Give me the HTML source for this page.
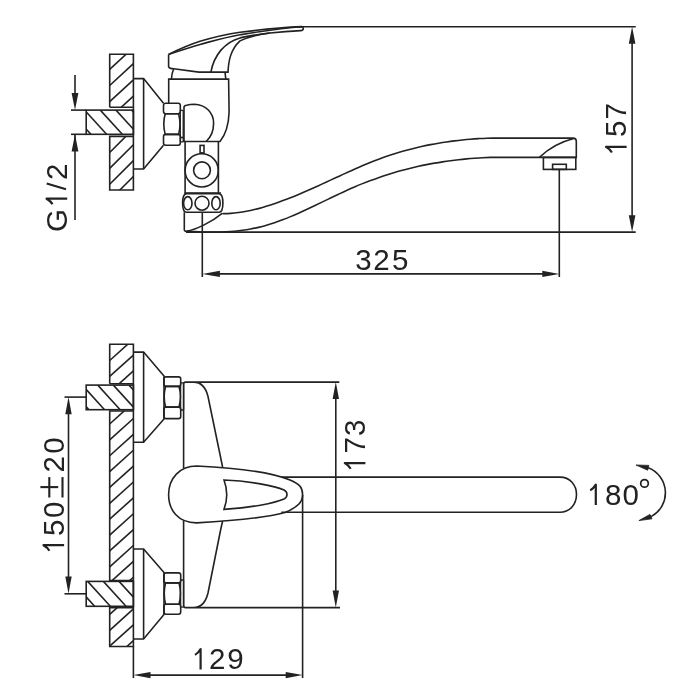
<!DOCTYPE html>
<html><head><meta charset="utf-8"><style>
html,body{margin:0;padding:0;background:#fff;width:700px;height:700px;overflow:hidden}
svg{position:absolute;left:0;top:0;will-change:transform}
text{font-family:"Liberation Sans",sans-serif;fill:#222}
</style></head><body>
<svg width="700" height="700" viewBox="0 0 700 700">
<g fill="none" stroke="#222" stroke-width="1.6" stroke-linejoin="miter">
<clipPath id="c1"><rect x="109.7" y="54.3" width="23.70" height="53.00"/></clipPath>
<g clip-path="url(#c1)"><line x1="109.70" y1="69.30" x2="133.40" y2="47.50"/><line x1="109.70" y1="85.50" x2="133.40" y2="63.70"/><line x1="109.70" y1="101.70" x2="133.40" y2="79.90"/><line x1="109.70" y1="117.90" x2="133.40" y2="96.10"/></g>
<clipPath id="c2"><rect x="109.7" y="136.4" width="23.70" height="53.60"/></clipPath>
<g clip-path="url(#c2)"><line x1="109.70" y1="136.60" x2="133.40" y2="112.90"/><line x1="109.70" y1="152.50" x2="133.40" y2="128.80"/><line x1="109.70" y1="168.40" x2="133.40" y2="144.70"/><line x1="109.70" y1="184.30" x2="133.40" y2="160.60"/><line x1="109.70" y1="200.20" x2="133.40" y2="176.50"/></g>
<clipPath id="c3"><rect x="86.2" y="110.1" width="47.20" height="24.20"/></clipPath>
<g clip-path="url(#c3)"><line x1="68.90" y1="110.10" x2="90.90" y2="134.30"/><line x1="84.60" y1="110.10" x2="106.60" y2="134.30"/><line x1="100.30" y1="110.10" x2="122.30" y2="134.30"/><line x1="116.00" y1="110.10" x2="138.00" y2="134.30"/><line x1="131.70" y1="110.10" x2="153.70" y2="134.30"/></g>
<clipPath id="c4"><rect x="109.7" y="344.3" width="23.70" height="39.50"/></clipPath>
<g clip-path="url(#c4)"><line x1="109.70" y1="344.63" x2="133.40" y2="323.30"/><line x1="109.70" y1="360.50" x2="133.40" y2="339.17"/><line x1="109.70" y1="376.37" x2="133.40" y2="355.04"/><line x1="109.70" y1="392.24" x2="133.40" y2="370.91"/></g>
<clipPath id="c5"><rect x="109.7" y="411.0" width="23.70" height="169.60"/></clipPath>
<g clip-path="url(#c5)"><line x1="109.70" y1="423.98" x2="133.40" y2="402.65"/><line x1="109.70" y1="439.85" x2="133.40" y2="418.52"/><line x1="109.70" y1="455.72" x2="133.40" y2="434.39"/><line x1="109.70" y1="471.59" x2="133.40" y2="450.26"/><line x1="109.70" y1="487.46" x2="133.40" y2="466.13"/><line x1="109.70" y1="503.33" x2="133.40" y2="482.00"/><line x1="109.70" y1="519.20" x2="133.40" y2="497.87"/><line x1="109.70" y1="535.07" x2="133.40" y2="513.74"/><line x1="109.70" y1="550.94" x2="133.40" y2="529.61"/><line x1="109.70" y1="566.81" x2="133.40" y2="545.48"/><line x1="109.70" y1="582.68" x2="133.40" y2="561.35"/><line x1="109.70" y1="598.55" x2="133.40" y2="577.22"/></g>
<clipPath id="c6"><rect x="109.7" y="607.6" width="23.70" height="38.90"/></clipPath>
<g clip-path="url(#c6)"><line x1="109.70" y1="614.42" x2="133.40" y2="593.09"/><line x1="109.70" y1="630.29" x2="133.40" y2="608.96"/><line x1="109.70" y1="646.16" x2="133.40" y2="624.83"/><line x1="109.70" y1="662.03" x2="133.40" y2="640.70"/></g>
<clipPath id="c7"><rect x="86.2" y="385.1" width="47.20" height="24.60"/></clipPath>
<g clip-path="url(#c7)"><line x1="66.60" y1="385.10" x2="88.96" y2="409.70"/><line x1="82.20" y1="385.10" x2="104.56" y2="409.70"/><line x1="97.80" y1="385.10" x2="120.16" y2="409.70"/><line x1="113.40" y1="385.10" x2="135.76" y2="409.70"/><line x1="129.00" y1="385.10" x2="151.36" y2="409.70"/></g>
<clipPath id="c8"><rect x="86.2" y="581.4" width="47.20" height="24.90"/></clipPath>
<g clip-path="url(#c8)"><line x1="72.00" y1="581.40" x2="94.64" y2="606.30"/><line x1="87.70" y1="581.40" x2="110.34" y2="606.30"/><line x1="103.40" y1="581.40" x2="126.04" y2="606.30"/><line x1="119.10" y1="581.40" x2="141.74" y2="606.30"/></g>
<!-- ============ TOP VIEW ============ -->
<path d="M109.7 107.3 L109.7 54.3 L133.4 54.3 L133.4 190 L109.7 190 L109.7 136.4 L133.4 136.4 M109.7 107.3 L133.4 107.3"/>
<rect x="86.2" y="110.1" width="47.2" height="24.2"/>
<line x1="71" y1="110.1" x2="86.2" y2="110.1"/>
<line x1="71" y1="134.3" x2="86.2" y2="134.3"/>
<!-- G1/2 dim -->
<line x1="46.7" y1="183.5" x2="66" y2="189.3" stroke-width="2.1"/>
<line x1="75" y1="75" x2="75" y2="95"/>
<line x1="75" y1="134.3" x2="75" y2="220"/>
<path d="M71.6 93 L78.4 93 L75 110 Z M71.6 151.4 L78.4 151.4 L75 134.3 Z" fill="#222" stroke="none"/>

<!-- faceplate -->
<path d="M133.4 78.6 L143.6 78.6 L163.5 103.3 M163.5 145.2 L143.6 169 L133.4 169"/>
<line x1="143.6" y1="78.6" x2="143.6" y2="169"/>
<!-- nut -->
<rect x="163.5" y="103.3" width="16.8" height="10.5" rx="2.2"/>
<path d="M165.2 113.8 L178.6 113.8 Q181.4 124.1 178.6 134.4 L165.2 134.4 Q162.4 124.1 165.2 113.8 Z"/>
<rect x="163.5" y="134.4" width="16.8" height="10.8" rx="2.2"/>
<rect x="180.3" y="110.3" width="2.9" height="31.5" rx="0.6" stroke-width="1.3"/>
<line x1="180.3" y1="137.5" x2="183.2" y2="137.5"/>

<!-- body -->
<path d="M168.7 103.3 L168.7 79.1 L228.6 79.1 L229.1 112 Q228.5 131 220 141.5 L183.2 141.5"/>
<path d="M184 141.5 L184 107.5 Q184 105.6 186.5 105.3 Q190 104.2 194.3 104.2 C206 104.6 213.6 113 213.6 123.2 C213.6 131 210.5 137.5 206.1 141.5"/>
<!-- band under handle -->
<path d="M173.7 68.7 Q171.8 73 171.4 79.1 M225 72.1 L225.8 79.1"/>
<!-- handle -->
<path d="M168.6 54.4 L168.6 66.6 Q169.5 68.7 173.7 68.7 L198.9 72.1 L228 72.1 C228.5 62 230 50 240 40.9 C246 37.8 256 34.6 270 33"/>
<path d="M168.6 54.4 C180 48.8 190 44.5 200 41.3 C213 37.5 226 34.3 240 32.3 C262 29.4 285 27.3 301.5 26.6 Q303.3 26.7 303.3 28.6 Q303.3 30.6 300.8 30.6 C290 31 280 31.8 270 33 C262 34 250 35.5 240 37.9 C225 42 214 55 210.9 72.1"/>
<path d="M168.6 54.4 C180 50.6 190 47.2 200 44.4 C213 41 226 37.2 240 34.8 C258 31.8 280 28 302 26.7"/>
<line x1="302.6" y1="26.8" x2="635.7" y2="26.8"/>

<!-- stem below body -->
<line x1="185.1" y1="141.5" x2="185.1" y2="193.8"/>
<line x1="218.4" y1="141.5" x2="218.4" y2="193.8"/>
<rect x="200.1" y="145.4" width="3.9" height="7.5"/>
<circle cx="201.7" cy="170.4" r="16.6"/>
<circle cx="202" cy="170.3" r="8.4"/>
<!-- ring -->
<path d="M186.5 193.6 L219 193.6 Q222.9 194 222.9 203 Q222.9 212.3 219 212.3 L186.5 212.3 Q182.6 212.3 182.6 203 Q182.6 194 186.5 193.6 Z"/>
<line x1="184.5" y1="192.9" x2="221" y2="192.9" stroke-width="1.2"/>
<ellipse cx="187.8" cy="203.2" rx="4.2" ry="6.6"/>
<circle cx="202" cy="203.2" r="7"/>
<ellipse cx="216" cy="203.2" rx="4.2" ry="6.6"/>
<!-- spout base -->
<path d="M184.3 212.3 L184.3 229.5 Q184.3 231.5 186.5 231.4 C196 229.5 212 222 222.5 213.2"/>
<path d="M222.50 213.71 C223.83 213.66 227.83 213.57 230.50 213.38 C233.17 213.19 235.83 212.90 238.50 212.55 C241.17 212.20 243.83 211.76 246.50 211.26 C249.17 210.76 251.83 210.19 254.50 209.56 C257.17 208.93 259.83 208.23 262.50 207.48 C265.17 206.73 267.83 205.91 270.50 205.06 C273.17 204.21 275.83 203.30 278.50 202.35 C281.17 201.40 283.83 200.40 286.50 199.37 C289.17 198.34 291.83 197.28 294.50 196.18 C297.17 195.09 299.83 193.95 302.50 192.80 C305.17 191.65 307.83 190.48 310.50 189.29 C313.17 188.10 315.83 186.89 318.50 185.67 C321.17 184.45 323.83 183.22 326.50 181.99 C329.17 180.76 331.83 179.52 334.50 178.29 C337.17 177.06 339.83 175.83 342.50 174.61 C345.17 173.39 347.83 172.17 350.50 170.98 C353.17 169.79 355.83 168.60 358.50 167.45 C361.17 166.29 363.83 165.15 366.50 164.05 C369.17 162.95 371.83 161.87 374.50 160.83 C377.17 159.79 379.83 158.78 382.50 157.82 C385.17 156.86 387.83 155.93 390.50 155.05 C393.17 154.17 395.83 153.33 398.50 152.53 C401.17 151.73 403.83 150.96 406.50 150.23 C409.17 149.50 411.83 148.81 414.50 148.16 C417.17 147.50 419.83 146.89 422.50 146.30 C425.17 145.72 427.83 145.17 430.50 144.65 C433.17 144.13 435.83 143.64 438.50 143.19 C441.17 142.74 443.83 142.32 446.50 141.93 C449.17 141.54 451.83 141.18 454.50 140.85 C457.17 140.52 459.83 140.22 462.50 139.94 C465.17 139.66 467.83 139.42 470.50 139.20 C473.17 138.98 475.83 138.79 478.50 138.62 C481.17 138.45 483.83 138.27 486.50 138.18 C489.17 138.09 491.83 138.11 494.50 138.10 C497.17 138.09 499.83 138.10 502.50 138.10 C505.17 138.10 507.83 138.10 510.50 138.10 C513.17 138.10 515.83 138.10 518.50 138.10 C521.17 138.10 524.58 138.10 526.50 138.10 C528.42 138.10 529.42 138.10 530.00 138.10 L573 138.1 Q576.3 138.1 576.3 141.5 L576.3 157.4 L530 157.4" />
<path d="M186.50 231.17 C187.83 231.25 191.83 231.53 194.50 231.67 C197.17 231.81 199.83 231.94 202.50 232.00 C205.17 232.06 207.83 232.00 210.50 232.00 C213.17 232.00 215.83 232.03 218.50 232.00 C221.17 231.97 223.83 231.97 226.50 231.85 C229.17 231.72 231.83 231.50 234.50 231.25 C237.17 231.00 239.83 230.70 242.50 230.33 C245.17 229.96 247.83 229.54 250.50 229.05 C253.17 228.56 255.83 228.00 258.50 227.37 C261.17 226.74 263.83 226.03 266.50 225.26 C269.17 224.48 271.83 223.63 274.50 222.72 C277.17 221.81 279.83 220.84 282.50 219.82 C285.17 218.80 287.83 217.73 290.50 216.62 C293.17 215.51 295.83 214.34 298.50 213.16 C301.17 211.98 303.83 210.76 306.50 209.52 C309.17 208.28 311.83 207.01 314.50 205.74 C317.17 204.47 319.83 203.17 322.50 201.89 C325.17 200.60 327.83 199.31 330.50 198.03 C333.17 196.75 335.83 195.47 338.50 194.22 C341.17 192.97 343.83 191.72 346.50 190.51 C349.17 189.30 351.83 188.11 354.50 186.96 C357.17 185.81 359.83 184.70 362.50 183.63 C365.17 182.56 367.83 181.52 370.50 180.52 C373.17 179.52 375.83 178.56 378.50 177.64 C381.17 176.71 383.83 175.82 386.50 174.97 C389.17 174.12 391.83 173.30 394.50 172.51 C397.17 171.72 399.83 170.97 402.50 170.25 C405.17 169.53 407.83 168.84 410.50 168.19 C413.17 167.54 415.83 166.92 418.50 166.33 C421.17 165.74 423.83 165.18 426.50 164.65 C429.17 164.12 431.83 163.63 434.50 163.16 C437.17 162.69 439.83 162.25 442.50 161.84 C445.17 161.43 447.83 161.05 450.50 160.69 C453.17 160.33 455.83 160.00 458.50 159.70 C461.17 159.40 463.83 159.13 466.50 158.88 C469.17 158.63 471.83 158.41 474.50 158.21 C477.17 158.01 479.83 157.82 482.50 157.69 C485.17 157.56 487.83 157.45 490.50 157.40 C493.17 157.35 495.83 157.40 498.50 157.40 C501.17 157.40 503.83 157.40 506.50 157.40 C509.17 157.40 511.83 157.40 514.50 157.40 C517.17 157.40 519.92 157.40 522.50 157.40 C525.08 157.40 528.75 157.40 530.00 157.40" />
<path d="M539.4 157.4 C548 149 560 142 573.7 138.5"/>
<rect x="543.4" y="157.4" width="32.4" height="12"/>
<rect x="552.6" y="164.3" width="13.7" height="5.1"/>
<line x1="186" y1="232.1" x2="635.7" y2="232.1"/>
<!-- 325 dim -->
<line x1="202.3" y1="212.3" x2="202.3" y2="277"/>
<line x1="559.3" y1="169.4" x2="559.3" y2="277"/>
<line x1="215" y1="273.9" x2="545" y2="273.9"/>
<path d="M202.3 273.9 L219.9 270.7 L219.9 277.1 Z M559.3 273.9 L542.3 270.7 L542.3 277.1 Z" fill="#222" stroke="none"/>
<!-- 157 dim -->
<line x1="632.1" y1="40" x2="632.1" y2="218"/>
<path d="M632.1 26.8 L628.8 43.7 L635.4 43.7 Z M632.1 232.1 L628.8 215.2 L635.4 215.2 Z" fill="#222" stroke="none"/>

<!-- ============ BOTTOM VIEW ============ -->
<path d="M109.7 383.8 L109.7 344.3 L133.4 344.3 L133.4 646.5 L109.7 646.5 L109.7 607.6 L133.4 607.6 M109.7 383.8 L133.4 383.8 M133.4 411 L109.7 411 L109.7 580.6 L133.4 580.6"/>
<rect x="86.2" y="385.1" width="47.2" height="24.6"/>
<rect x="86.2" y="581.4" width="47.2" height="24.9"/>
<!-- faceplates -->
<path d="M133.4 352.1 L143.6 352.1 L164 376 L164 419 L143.6 442.2 L133.4 442.2"/>
<line x1="143.6" y1="352.1" x2="143.6" y2="442.2"/>
<path d="M133.4 549 L143.6 549 L164 572.5 L164 614.5 L143.6 639 L133.4 639"/>
<line x1="143.6" y1="549" x2="143.6" y2="639"/>
<!-- nuts -->
<rect x="163.9" y="376.9" width="16.80" height="9.50" rx="2.2"/>
<path d="M165.60 386.4 L179.00 386.4 Q181.80 396.75 179.00 407.1 L165.60 407.1 Q162.80 396.75 165.60 386.4 Z"/>
<rect x="163.9" y="407.1" width="16.80" height="11.50" rx="2.2"/>
<rect x="180.6" y="382.9" width="3" height="27.1" rx="0.6" stroke-width="1.3"/>
<rect x="163.9" y="572.9" width="16.80" height="10.00" rx="2.2"/>
<path d="M165.60 582.9 L179.00 582.9 Q181.80 593.60 179.00 604.3 L165.60 604.3 Q162.80 593.60 165.60 582.9 Z"/>
<rect x="163.9" y="604.3" width="16.80" height="10.00" rx="2.2"/>
<rect x="180.6" y="580" width="3" height="27.1" rx="0.6" stroke-width="1.3"/>
<!-- body -->
<path d="M183.6 468.3 L183.6 384.1 Q183.6 382.1 185.6 382.1 L339.3 382.1 M193.5 382.1 C201 382.1 205.8 387.5 208 396.5 L222.6 467"/>
<path d="M183.6 521 L183.6 605.6 Q183.6 607.6 185.6 607.6 L340 607.6 M193.5 607.6 C201 607.6 205.8 602 208 593 L220.6 530 L222.6 521"/>
<!-- handle -->
<path d="M196.6 466 C240 468 270 472 290 480 C300 484 302.6 488 302.6 494.8 C302.6 502 298 507 285 512.5 C265 518 230 521 196.6 522.9 C178 523 168.6 510 168.6 494.6 C168.6 478 180 466 196.6 466 Z"/>
<path d="M224 480 C250 481 275 486 284 490 C288 492 288 497 284 499 C275 503 250 508 224 509.4 Q229.5 494.7 224 480 Z"/>
<!-- spout -->
<path d="M281.4 477.1 L560 477.1 C570 477.1 576.5 485 576.5 494.5 C576.5 504 570 512.2 560 512.2 L281.4 512.2"/>
<!-- 173 dim -->
<line x1="335.8" y1="395" x2="335.8" y2="595"/>
<path d="M335.8 382.1 L332.6 399 L339 399 Z M335.8 607.6 L332.6 590.5 L339 590.5 Z" fill="#222" stroke="none"/>
<!-- 129 dim -->
<line x1="302.6" y1="494.8" x2="302.6" y2="678"/>
<line x1="133.4" y1="646.5" x2="133.4" y2="678"/>
<line x1="145" y1="675.1" x2="290" y2="675.1"/>
<path d="M133.4 675.1 L150.5 671.9 L150.5 678.3 Z M302.6 675.1 L285.7 671.9 L285.7 678.3 Z" fill="#222" stroke="none"/>
<!-- 150±20 dim -->
<line x1="49.3" y1="477.1" x2="49.3" y2="497.5" stroke-width="2.1"/>
<line x1="40.4" y1="487.1" x2="58.2" y2="487.1" stroke-width="2.1"/>
<line x1="62.5" y1="477.1" x2="62.5" y2="497.5" stroke-width="2.1"/>
<line x1="64.5" y1="397.1" x2="86.2" y2="397.1"/>
<line x1="64.5" y1="593.8" x2="86.2" y2="593.8"/>
<line x1="68.5" y1="410" x2="68.5" y2="580"/>
<path d="M68.5 397.1 L65.3 414.3 L71.7 414.3 Z M68.5 593.8 L65.3 576.5 L71.7 576.5 Z" fill="#222" stroke="none"/>
<!-- 180 deg -->
<circle cx="644.5" cy="483.4" r="3.8" stroke-width="1.7"/>
<path d="M648.3 467.8 A26.9 26.9 0 0 1 651.1 516.6"/>
<path d="M636 465 L648.9 465.4 L647.7 470.2 Z M638.9 520.6 L650 514.4 L652 518.8 Z" fill="#222" stroke="#222" stroke-width="0.8"/>

</g>
<g fill="#222" stroke="none">
<g transform="translate(0,270.40)"><text x="355.20" y="0" font-size="29.5">3</text><text x="373.30" y="0" font-size="29.5">2</text><text x="391.90" y="0" font-size="29.5">5</text></g>
<g transform="translate(0,669.40)"><path d="M200.60 0.2 L200.60 -20.4 Q198.20 -16.2 195.00 -14.5" fill="none" stroke="#222" stroke-width="2.2" stroke-linecap="butt" stroke-linejoin="round"/><text x="209.10" y="0" font-size="29.5">2</text><text x="227.30" y="0" font-size="29.5">9</text></g>
<g transform="translate(0,504.90)"><path d="M595.80 0.2 L595.80 -20.4 Q593.40 -16.2 590.20 -14.5" fill="none" stroke="#222" stroke-width="2.2" stroke-linecap="butt" stroke-linejoin="round"/><text x="605.10" y="0" font-size="29.5">8</text><text x="622.60" y="0" font-size="29.5">0</text></g>
<g transform="translate(626.40,700.0) rotate(-90)"><path d="M553.10 0.2 L553.10 -20.4 Q550.70 -16.2 547.50 -14.5" fill="none" stroke="#222" stroke-width="2.2" stroke-linecap="butt" stroke-linejoin="round"/><text x="562.90" y="0" font-size="29.5">5</text><text x="580.60" y="0" font-size="29.5">7</text></g>
<g transform="translate(365.20,700.0) rotate(-90)"><path d="M236.90 0.2 L236.90 -20.4 Q234.50 -16.2 231.30 -14.5" fill="none" stroke="#222" stroke-width="2.2" stroke-linecap="butt" stroke-linejoin="round"/><text x="246.40" y="0" font-size="29.5">7</text><text x="264.10" y="0" font-size="29.5">3</text></g>
<g transform="translate(63.90,700.0) rotate(-90)"><path d="M154.80 0.2 L154.80 -20.4 Q152.40 -16.2 149.20 -14.5" fill="none" stroke="#222" stroke-width="2.2" stroke-linecap="butt" stroke-linejoin="round"/><text x="164.00" y="0" font-size="29.5">5</text><text x="182.10" y="0" font-size="29.5">0</text><text x="227.40" y="0" font-size="29.5">2</text><text x="246.30" y="0" font-size="29.5">0</text></g>
<g transform="translate(67.00,700.0) rotate(-90)"><text x="468.00" y="0" font-size="29.5">G</text><path d="M501.30 0.2 L501.30 -20.4 Q498.90 -16.2 495.70 -14.5" fill="none" stroke="#222" stroke-width="2.2" stroke-linecap="butt" stroke-linejoin="round"/><text x="519.90" y="0" font-size="29.5">2</text></g>
</g>
</svg>
</body></html>
